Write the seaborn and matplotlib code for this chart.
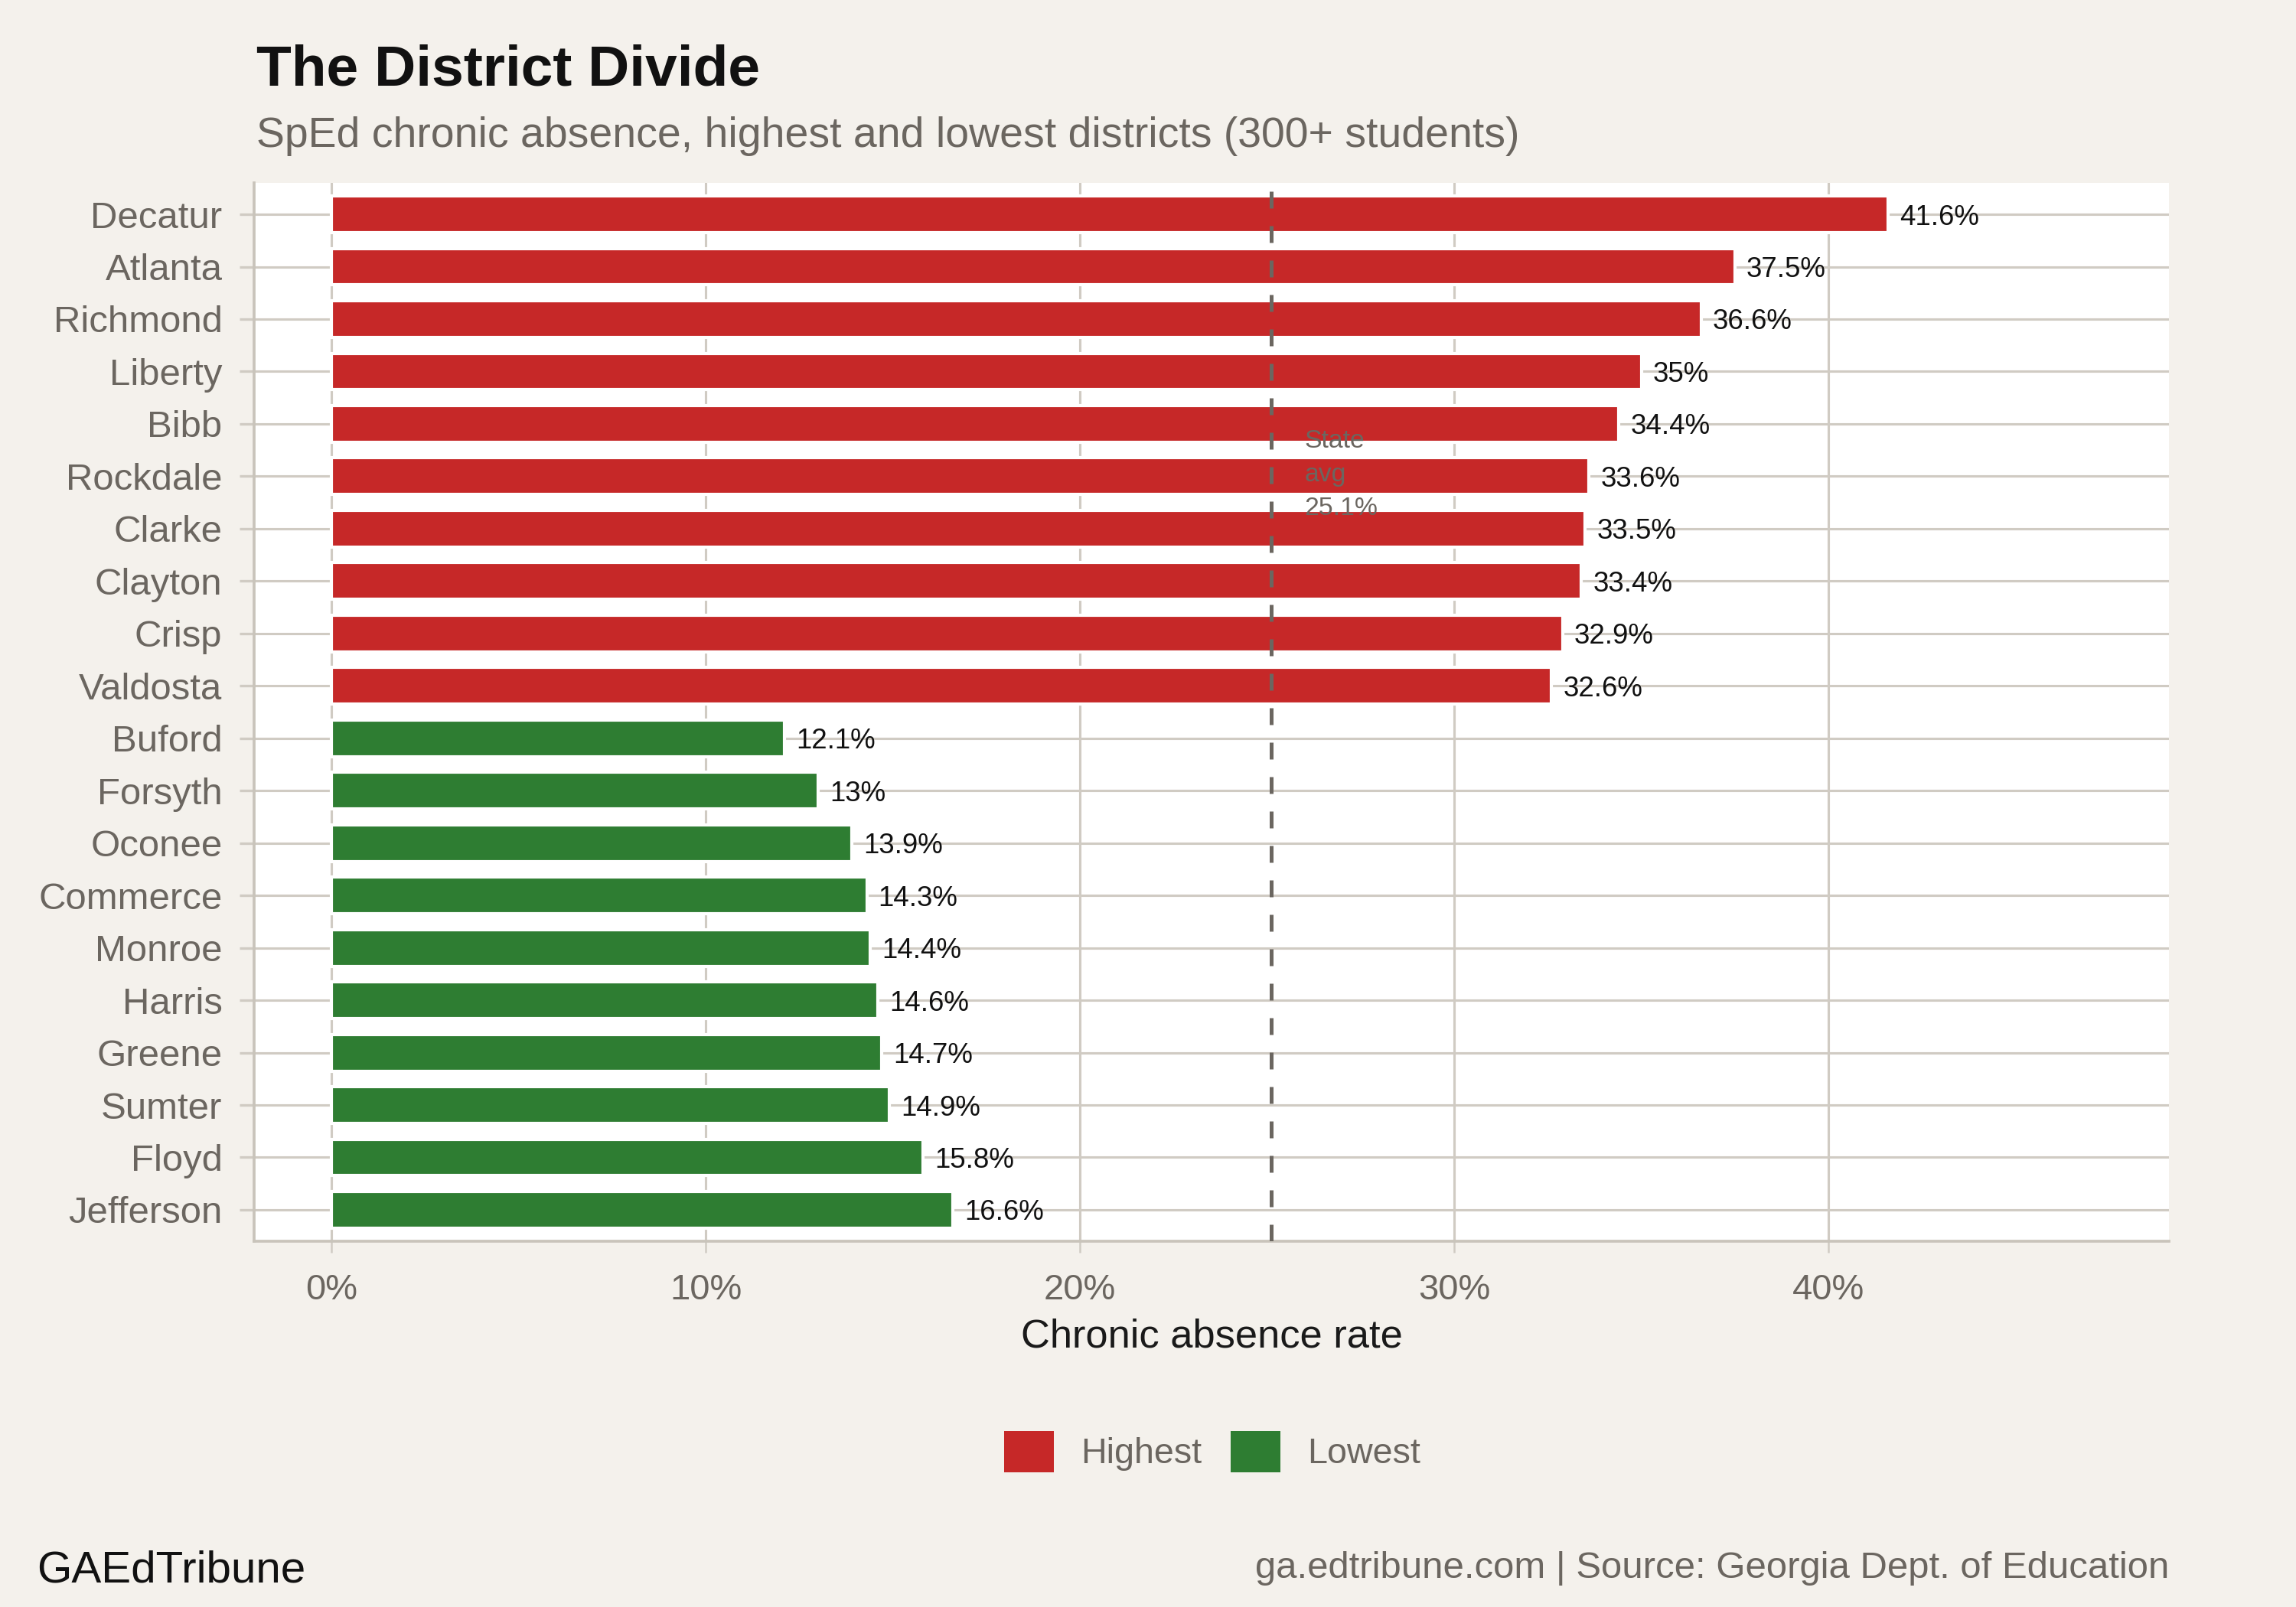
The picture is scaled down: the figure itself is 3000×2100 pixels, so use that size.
import pandas as pd
import numpy as np
import matplotlib.pyplot as plt
import seaborn as sns
from matplotlib.patches import Patch

# Valores
districts = ["Decatur", "Atlanta", "Richmond", "Liberty", "Bibb", "Rockdale", "Clarke",
             "Clayton", "Crisp", "Valdosta", "Buford", "Forsyth", "Oconee", "Commerce",
             "Monroe", "Harris", "Greene", "Sumter", "Floyd", "Jefferson"]
rates = [41.6, 37.5, 36.6, 35.0, 34.4, 33.6, 33.5, 33.4, 32.9, 32.6,
         12.1, 13.0, 13.9, 14.3, 14.4, 14.6, 14.7, 14.9, 15.8, 16.6]
groups = ["Highest"] * 10 + ["Lowest"] * 10
group_order = ["Highest", "Lowest"]
state_avg = 25.1
x_ticks = [0, 10, 20, 30, 40]
x_ticklabels = ["0%", "10%", "20%", "30%", "40%"]

colors = {"Highest": "#c62828", "Lowest": "#2e7d32"}
bg = "#f4f1ec"
grid_col = "#d0cbc3"
spine_col = "#c9c4bb"
text_gray = "#6b6660"

df = pd.DataFrame({"district": districts, "rate": rates, "group": groups})

sns.set_theme(style="white")
plt.rcParams["font.family"] = ["Liberation Sans", "DejaVu Sans"]

fig = plt.figure(figsize=(10, 7), dpi=300, facecolor=bg)
ax = fig.add_axes([0.1107, 0.2276, 0.834, 0.6586])
ax.set_facecolor("white")
ax.set_axisbelow(True)

sns.barplot(data=df, x="rate", y="district", hue="group", order=districts,
            hue_order=group_order, palette=colors, dodge=False, width=0.7,
            saturation=1, legend=False, ax=ax)

# rótulos das barras
for i, v in enumerate(rates):
    ax.annotate(f"{v:g}%", xy=(v, i), xytext=(3.6, 0), textcoords="offset points",
                ha="left", va="center_baseline", fontsize=8.8, color="#111111")

# média estadual
ax.axvline(state_avg, color=text_gray, lw=1.2, ls=(0, (4.4, 4.6)), zorder=5)
ax.text(state_avg + 0.9, 4.97, f"State\navg\n{state_avg:g}%", ha="left", va="center",
        fontsize=8.1, color=text_gray, linespacing=1.55, zorder=6)

ax.set_xlim(-2.07, 49.1)
ax.set_ylim(19.6, -0.6)
ax.set_xticks(x_ticks)
ax.set_xticklabels(x_ticklabels)
ax.grid(True, axis="both", color=grid_col, lw=0.75)

ax.tick_params(axis="x", bottom=True, length=3.6, width=0.6, color=grid_col, pad=6.5,
               labelsize=11.3, labelcolor=text_gray)
ax.tick_params(axis="y", left=True, length=4.5, width=0.8, color=grid_col, pad=5.5,
               labelsize=11.8, labelcolor=text_gray)

for side in ["top", "right"]:
    ax.spines[side].set_visible(False)
for side in ["left", "bottom"]:
    ax.spines[side].set_color(spine_col)
    ax.spines[side].set_linewidth(0.9)

ax.set_xlabel("Chronic absence rate", fontsize=12.6, color="#1a1a1a", labelpad=3.5)
ax.set_ylabel("")

handles = [Patch(facecolor=colors[g], edgecolor="none", label=g) for g in group_order]
fig.legend(handles=handles, loc="center", bbox_to_anchor=(0.528, 0.0967), ncol=2,
           frameon=False, fontsize=11.2, handlelength=1.4, handleheight=1.4,
           handletextpad=0.75, columnspacing=0.8, labelcolor=text_gray)

fig.text(0.1117, 0.9467, "The District Divide", fontsize=18, fontweight="bold",
         color="#111111", va="baseline")
fig.text(0.1117, 0.9086, "SpEd chronic absence, highest and lowest districts (300+ students)",
         fontsize=13.3, color=text_gray, va="baseline")
fig.text(0.016, 0.0157, "GAEdTribune", fontsize=14, color="#111111", va="baseline")
fig.text(0.9447, 0.0181, "ga.edtribune.com | Source: Georgia Dept. of Education",
         fontsize=11.8, color=text_gray, va="baseline", ha="right")

fig.savefig("out.png", dpi=300, facecolor=bg)
